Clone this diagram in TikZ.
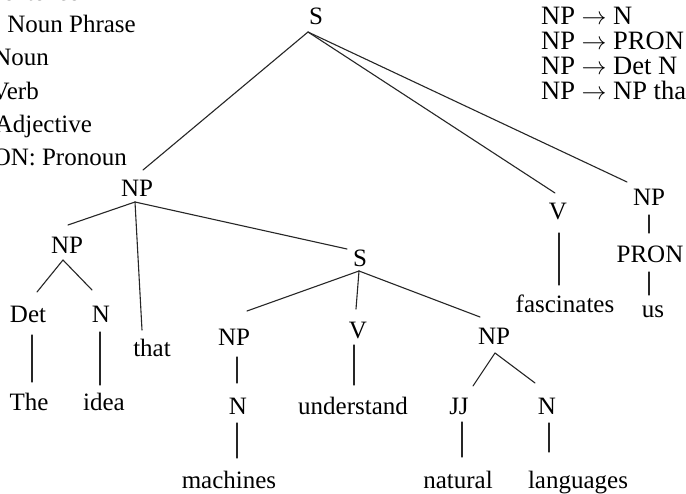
\documentclass[tikz,border=0pt]{standalone}
\usepackage{fontspec}
\setmainfont{Liberation Serif}
\usetikzlibrary{calc}
\begin{document}
\begin{tikzpicture}[x=1pt,y=-1pt,
  lbl/.style={font=\fontsize{25}{30}\selectfont, inner sep=0pt, anchor=base},
  leg/.style={font=\fontsize{25}{30}\selectfont, inner sep=0pt, anchor=base west},
  rulet/.style={font=\fontsize{26.5}{30}\selectfont, inner sep=0pt, anchor=base west},
  edge/.style={line width=1.1pt, draw=black!85, line cap=round}]
\useasboundingbox (0,0) rectangle (686,494);
\clip (0,0) rectangle (686,494);
\fill[white] (0,0) rectangle (686,494);

% legend (cut off at the left/top edges)
\node[leg] (leg1) at (-38,1)   {S: Sentence};
\node[leg] (leg2) at (-38,33)  {NP: Noun Phrase};
\node[leg] (leg3) at (-38,66)  {N: Noun};
\node[leg] (leg4) at (-38,99.5){V: Verb};
\node[leg] (leg5) at (-38,133) {JJ: Adjective};
\node[leg] (leg6) at (-38,166) {PRON: Pronoun};

% grammar rules (cut off at the right edge)
\node[rulet] (r1) at (541,25)  {NP $\rightarrow$ N};
\node[rulet] (r2) at (541,50)  {NP $\rightarrow$ PRON};
\node[rulet] (r3) at (541,75)  {NP $\rightarrow$ Det N};
\node[rulet] (r4) at (541,100) {NP $\rightarrow$ NP that S};

% tree nodes
\node[lbl] (S0)   at (316,25)  {S};
\node[lbl] (NP1)  at (137,197) {NP};
\node[lbl] (V1)   at (558,220) {V};
\node[lbl] (NP2)  at (649,206) {NP};
\node[lbl] (PRON) at (650,263) {PRON};
\node[lbl] (us)   at (653,318) {us};
\node[lbl] (fasc) at (565,313) {fascinates};
\node[lbl] (NP3)  at (67,254)  {NP};
\node[lbl] (Det)  at (28,323)  {Det};
\node[lbl] (N1)   at (101,323) {N};
\node[lbl] (that) at (152,357) {that};
\node[lbl] (The)  at (29,410)  {The};
\node[lbl] (idea) at (104,410) {idea};
\node[lbl] (S1)   at (360,267) {S};
\node[lbl] (NP4)  at (234,346) {NP};
\node[lbl] (V2)   at (358,339) {V};
\node[lbl] (NP5)  at (494,345) {NP};
\node[lbl] (N2)   at (238,415) {N};
\node[lbl] (mach) at (229,488) {machines};
\node[lbl] (und)  at (353,415) {understand};
\node[lbl] (JJ)   at (459,415) {JJ};
\node[lbl] (N3)   at (547,415) {N};
\node[lbl] (nat)  at (458,488) {natural};
\node[lbl] (lang) at (578,488) {languages};

% edges
\draw[edge] ($(S0.base)+(-8,7)$) -- ($(NP1.base)+(6,-27)$);
\draw[edge] ($(S0.base)+(-8,7)$) -- ($(V1.base)+(-3,-27)$);
\draw[edge] ($(S0.base)+(-8,7)$) -- ($(NP2.base)+(-22,-24)$);
\draw[edge] ($(NP1.base)+(-2,5)$) -- ($(NP3.base)+(1,-29)$);
\draw[edge] ($(NP1.base)+(-2,5)$) -- ($(that.base)+(-10,-27)$);
\draw[edge] ($(NP1.base)+(-2,5)$) -- ($(S1.base)+(-13,-18)$);
\draw[edge] ($(NP3.base)+(-4,6)$) -- ($(Det.base)+(9,-31)$);
\draw[edge] ($(NP3.base)+(-4,6)$) -- ($(N1.base)+(-9,-33)$);
\draw[edge] ($(Det.base)+(4,12)$) -- ($(The.base)+(3,-28)$);
\draw[edge] ($(N1.base)+(-1,9)$) -- ($(idea.base)+(-4,-25)$);
\draw[edge] ($(S1.base)+(-1,4)$) -- ($(NP4.base)+(13,-35)$);
\draw[edge] ($(S1.base)+(-1,4)$) -- ($(V2.base)+(-2,-30)$);
\draw[edge] ($(S1.base)+(-1,4)$) -- ($(NP5.base)+(-14,-28)$);
\draw[edge] ($(NP4.base)+(3,11)$) -- ($(N2.base)+(-1,-32)$);
\draw[edge] ($(V2.base)+(-4,6)$) -- ($(und.base)+(1,-30)$);
\draw[edge] ($(NP5.base)+(1,8)$) -- ($(JJ.base)+(14,-29)$);
\draw[edge] ($(NP5.base)+(1,8)$) -- ($(N3.base)+(-12,-32)$);
\draw[edge] ($(N2.base)+(-1,8)$) -- ($(mach.base)+(8,-30)$);
\draw[edge] ($(JJ.base)+(3,7)$) -- ($(nat.base)+(4,-31)$);
\draw[edge] ($(N3.base)+(2,8)$) -- ($(lang.base)+(-29,-36)$);
\draw[edge] ($(V1.base)+(1,13)$) -- ($(fasc.base)+(-6,-28)$);
\draw[edge] ($(NP2.base)+(0,9)$) -- ($(PRON.base)+(-1,-30)$);
\draw[edge] ($(PRON.base)+(-1,9)$) -- ($(us.base)+(-4,-23)$);
\end{tikzpicture}
\end{document}
